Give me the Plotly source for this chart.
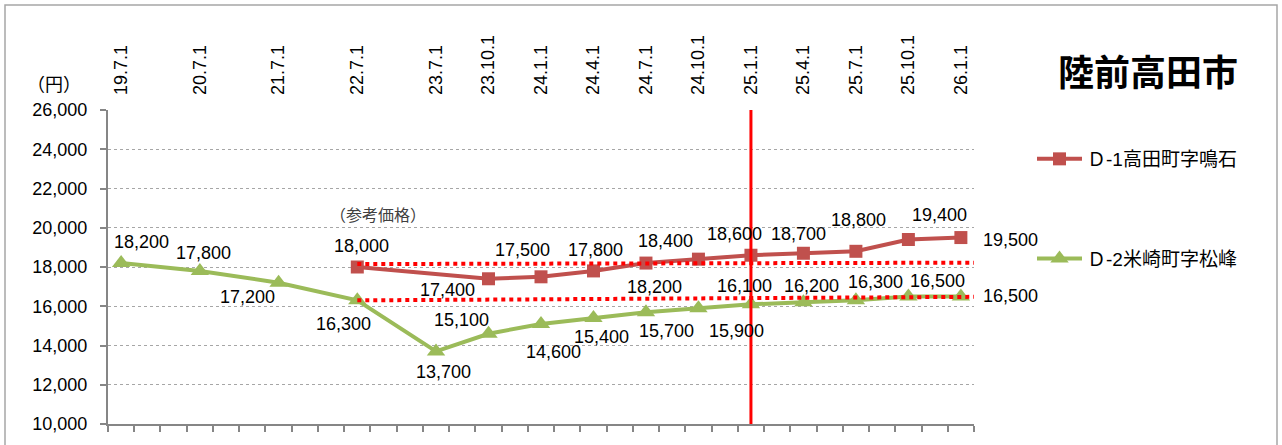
import plotly.graph_objects as go

# Survey dates (top axis labels) and their slot on the 33-slot category axis
dates = ["19.7.1", "20.7.1", "21.7.1", "22.7.1", "23.7.1", "23.10.1", "24.1.1",
         "24.4.1", "24.7.1", "24.10.1", "25.1.1", "25.4.1", "25.7.1", "25.10.1", "26.1.1"]
slots = [0, 3, 6, 9, 12, 14, 16, 18, 20, 22, 24, 26, 28, 30, 32]
n_slots = 33

# D-1 (reference prices start at 22.7.1; no survey at 23.7.1)
d1_name = "Ｄ-1高田町字鳴石"
d1_vals = [None, None, None, 18000, None, 17400, 17500, 17800, 18200, 18400,
           18600, 18700, 18800, 19400, 19500]

# D-2
d2_name = "Ｄ-2米崎町字松峰"
d2_vals = [18200, 17800, 17200, 16300, 13700, 14600, 15100, 15400, 15700, 15900,
           16100, 16200, 16300, 16500, 16500]

# Dotted guide levels from 22.7.1 to the right edge
guide_start = "22.7.1"
guide_upper = [18150, 18220]
guide_lower = [16300, 16480]

# Vertical marker date
marker_date = "25.1.1"

# Data label offsets in pixels (dx, dy; dy positive = downward)
d1_label_off = [None, None, None, (4, -21), None, (-41, 11), (-19, -27), (2, -21),
                (9, 24), (-33, -18), (-16, -21), (-5, -19), (3, -31), (31, -25), (50, 2)]
d2_label_off = [(20, -21), (4, -18), (-31, 14), (-14, 24), (7, 21), (65, 18), (-80, -4),
                (8, 19), (21, 19), (38, 23), (-6, -18), (8, -16), (20, -18), (29, -15), (50, 0)]

RED = "#C0504D"
GREEN = "#9BBB59"
FONT = "Liberation Sans, Noto Sans CJK JP, sans-serif"

fig = go.Figure()

fig.add_trace(go.Scatter(
    x=slots, y=d1_vals, name=d1_name, mode="lines+markers", connectgaps=True,
    line=dict(color=RED, width=4),
    marker=dict(symbol="square", size=13, color=RED),
    legendgroup="d1", xaxis="x", yaxis="y"))

fig.add_trace(go.Scatter(
    x=slots, y=d2_vals, name=d2_name, mode="lines+markers",
    line=dict(color=GREEN, width=4),
    marker=dict(symbol="triangle-up", size=16, color=GREEN),
    legendgroup="d2", xaxis="x", yaxis="y"))

gx0 = slots[dates.index(guide_start)]
gx1 = n_slots - 0.5
for lv in (guide_upper, guide_lower):
    fig.add_trace(go.Scatter(
        x=[gx0, gx1], y=lv, mode="lines", showlegend=False, hoverinfo="skip",
        line=dict(color="#FF0000", width=4, dash="4px,4px")))

# invisible trace carrying the bottom tick axis
fig.add_trace(go.Scatter(x=[0], y=[None], xaxis="x2", yaxis="y",
                         showlegend=False, hoverinfo="skip"))

# data labels
for vals, offs in ((d1_vals, d1_label_off), (d2_vals, d2_label_off)):
    for s, v, o in zip(slots, vals, offs):
        if v is None:
            continue
        fig.add_annotation(x=s, y=v, xref="x", yref="y", text=f"{v:,}",
                           showarrow=False, xshift=o[0], yshift=-o[1],
                           xanchor="center", yanchor="middle",
                           font=dict(size=18, color="#000000", family=FONT))

# vertical marker line
mx = slots[dates.index(marker_date)]
fig.add_shape(type="line", xref="x", yref="paper", x0=mx, x1=mx, y0=0, y1=1,
              line=dict(color="#FF0000", width=3), layer="above")

# outer frame
PL, PR, PT, PB = 108, 974, 110, 424
W, H = PR - PL, PB - PT
def px(v): return (v - PL) / W
def py(v): return (PB - v) / H
fig.add_shape(type="rect", xref="paper", yref="paper",
              x0=px(5), x1=px(1277), y0=py(470), y1=py(5),
              line=dict(color="#A6A6A6", width=1.5), layer="below")

fig.add_annotation(xref="paper", yref="paper", x=px(1148), y=py(70),
                   xanchor="center", yanchor="middle",
                   text="<b>陸前高田市</b>", showarrow=False,
                   font=dict(size=36, color="#000000", family="Noto Sans CJK JP"))
fig.add_annotation(xref="paper", yref="paper", x=px(54), y=py(83),
                   xanchor="center", yanchor="middle",
                   text="（円）", showarrow=False,
                   font=dict(size=18, color="#000000", family="Noto Sans CJK JP"))
fig.add_annotation(xref="paper", yref="paper", x=px(378), y=py(214),
                   xanchor="center", yanchor="middle",
                   text="（参考価格）", showarrow=False,
                   font=dict(size=16, color="#404040", family="Noto Sans CJK JP"))

fig.update_layout(
    width=1282, height=445,
    margin=dict(l=PL, r=1282 - PR, t=PT, b=445 - PB, pad=0),
    paper_bgcolor="white", plot_bgcolor="white",
    font=dict(family=FONT, size=18, color="#000000"),
    showlegend=True,
    legend=dict(x=px(1032), y=py(140), xanchor="left", yanchor="top",
                font=dict(size=19, family=FONT), tracegroupgap=72,
                itemwidth=45, bgcolor="rgba(0,0,0,0)"),
    xaxis=dict(range=[-0.5, n_slots - 0.5], side="top", tickmode="array",
               tickvals=slots, ticktext=dates, tickangle=-90, ticks="",
               showgrid=False, zeroline=False, showline=False,
               ticklabelstandoff=14, tickfont=dict(size=18)),
    xaxis2=dict(range=[-0.5, n_slots - 0.5], overlaying="x", side="bottom",
                anchor="y", tickmode="array",
                tickvals=[k - 0.5 for k in range(n_slots + 1)],
                ticks="outside", ticklen=6, tickwidth=1.5, tickcolor="#868686",
                showticklabels=False, showgrid=False, zeroline=False,
                showline=True, linecolor="#868686", linewidth=2),
    yaxis=dict(range=[10000, 26000], dtick=2000, tickformat=",d",
               showgrid=True, gridcolor="#A6A6A6", griddash="dot", gridwidth=1,
               showline=True, linecolor="#868686", linewidth=2,
               ticks="outside", ticklen=6, tickwidth=1.5, tickcolor="#868686",
               ticklabelstandoff=9,
               zeroline=False, tickfont=dict(size=18)),
)

fig.write_html("out.html")
